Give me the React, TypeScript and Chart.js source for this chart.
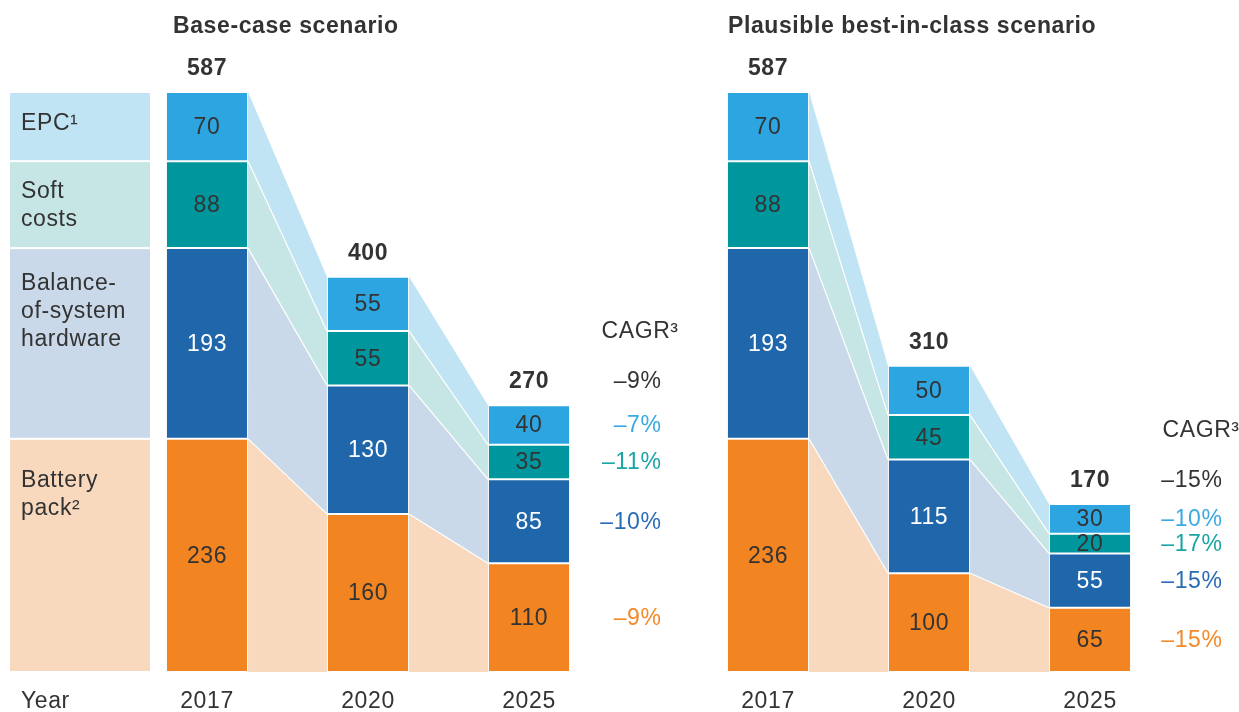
import React, { useEffect, useRef } from 'react';
import { Chart, registerables } from 'chart.js';

Chart.register(...registerables);

// ---------- data ----------
const YEARS = ['2017', '2020', '2025'];
// stacking order: bottom -> top
const SERIES_NAMES = ['Battery pack', 'Balance-of-system hardware', 'Soft costs', 'EPC'];
const LEGEND_LINES = [['Battery', 'pack²'], ['Balance-', 'of-system', 'hardware'], ['Soft', 'costs'], ['EPC¹']];

const BASE_BATTERY = [236, 160, 110];
const BASE_BOS = [193, 130, 85];
const BASE_SOFT = [88, 55, 35];
const BASE_EPC = [70, 55, 40];

const BEST_BATTERY = [236, 100, 65];
const BEST_BOS = [193, 115, 55];
const BEST_SOFT = [88, 45, 20];
const BEST_EPC = [70, 50, 30];

const CAGR_HEADER = 'CAGR³';
const BASE_CAGR_TOTAL = '–9%';
const BASE_CAGR = ['–9%', '–10%', '–11%', '–7%']; // battery, BOS, soft, EPC
const BEST_CAGR_TOTAL = '–15%';
const BEST_CAGR = ['–15%', '–15%', '–17%', '–10%'];

const TITLES = ['Base-case scenario', 'Plausible best-in-class scenario'];
const YEAR_LABEL = 'Year';

// ---------- styles ----------
const FONT = '"Liberation Sans", Arial, Helvetica, sans-serif';
const FONT_SIZE = 23;
const TEXT = '#333333';
const BAR_COLORS = ['#f28522', '#1f66ab', '#00969e', '#2ca5e0'];
const LIGHT_COLORS = ['#f9d9bd', '#cad9ea', '#c6e6e5', '#c0e4f4'];
const CAGR_COLORS = ['#f28a2a', '#2a6cb3', '#1aa5a5', '#3aaae2'];
const LABEL_COLORS = [TEXT, '#ffffff', TEXT, TEXT];
const LEGEND_TEXT_OFFSETS = [48, 42, 37, 38];
const SPACING = '0.6px';

const sumSeries = (arrs: number[][]) =>
  arrs.reduce((acc, arr) => acc.map((v, i) => v + arr[i]), arrs[0].map(() => 0));
const Y_MAX = Math.max(
  ...sumSeries([BASE_BATTERY, BASE_BOS, BASE_SOFT, BASE_EPC]),
  ...sumSeries([BEST_BATTERY, BEST_BOS, BEST_SOFT, BEST_EPC])
);

type PanelCfg = {
  title: string;
  titleX: number;
  values: number[][];
  cagrTotal: string;
  cagr: string[];
  legend: boolean;
  padLeft: number;
  padRight: number;
};

function setSpacing(ctx: any) {
  if ('letterSpacing' in ctx) ctx.letterSpacing = SPACING;
}

function makePlugin(cfg: PanelCfg) {
  return {
    id: 'panelDecor',
    beforeDraw(chart: any) {
      setSpacing(chart.ctx);
    },
    beforeDatasetsDraw(chart: any) {
      const ctx = chart.ctx;
      const n = chart.data.datasets.length;
      ctx.save();
      // connecting bands
      for (let d = 0; d < n; d++) {
        const meta = chart.getDatasetMeta(d);
        for (let i = 0; i < meta.data.length - 1; i++) {
          const a = meta.data[i].getProps(['x', 'y', 'base', 'width'], true);
          const b = meta.data[i + 1].getProps(['x', 'y', 'base', 'width'], true);
          const x1 = a.x + a.width / 2;
          const x2 = b.x - b.width / 2;
          ctx.beginPath();
          ctx.moveTo(x1, a.y);
          ctx.lineTo(x2, b.y);
          ctx.lineTo(x2, b.base);
          ctx.lineTo(x1, a.base);
          ctx.closePath();
          ctx.fillStyle = LIGHT_COLORS[d];
          ctx.fill();
        }
      }
      ctx.strokeStyle = '#ffffff';
      ctx.lineWidth = 1.2;
      for (let d = 0; d < n - 1; d++) {
        const meta = chart.getDatasetMeta(d);
        for (let i = 0; i < meta.data.length - 1; i++) {
          const a = meta.data[i].getProps(['x', 'y', 'width'], true);
          const b = meta.data[i + 1].getProps(['x', 'y', 'width'], true);
          ctx.beginPath();
          ctx.moveTo(a.x + a.width / 2, a.y);
          ctx.lineTo(b.x - b.width / 2, b.y);
          ctx.stroke();
        }
      }
      // legend column
      if (cfg.legend) {
        setSpacing(ctx);
        ctx.font = `${FONT_SIZE}px ${FONT}`;
        ctx.textAlign = 'left';
        ctx.textBaseline = 'alphabetic';
        for (let d = 0; d < n; d++) {
          const el = chart.getDatasetMeta(d).data[0].getProps(['y', 'base'], true);
          ctx.fillStyle = LIGHT_COLORS[d];
          ctx.fillRect(10, el.y + 1, 140, el.base - el.y - 2);
          ctx.fillStyle = TEXT;
          LEGEND_LINES[d].forEach((line, k) => {
            ctx.fillText(line, 21, el.y + LEGEND_TEXT_OFFSETS[d] + k * 28);
          });
        }
      }
      ctx.restore();
    },
    afterDatasetsDraw(chart: any) {
      const ctx = chart.ctx;
      const n = chart.data.datasets.length;
      const area = chart.chartArea;
      ctx.save();
      setSpacing(ctx);
      // segment labels
      ctx.font = `${FONT_SIZE}px ${FONT}`;
      ctx.textAlign = 'center';
      ctx.textBaseline = 'middle';
      for (let d = 0; d < n; d++) {
        const meta = chart.getDatasetMeta(d);
        meta.data.forEach((el: any, i: number) => {
          const p = el.getProps(['x', 'y', 'base'], true);
          ctx.fillStyle = LABEL_COLORS[d];
          ctx.fillText(String(chart.data.datasets[d].data[i]), p.x, (p.y + p.base) / 2 + 1);
        });
      }
      // totals
      const topMeta = chart.getDatasetMeta(n - 1);
      const totals = YEARS.map((_, i) =>
        chart.data.datasets.reduce((s: number, ds: any) => s + ds.data[i], 0)
      );
      ctx.font = `bold ${FONT_SIZE}px ${FONT}`;
      ctx.textBaseline = 'alphabetic';
      ctx.fillStyle = TEXT;
      let lastTotalBaseline = 0;
      topMeta.data.forEach((el: any, i: number) => {
        const p = el.getProps(['x', 'y'], true);
        const yb = chart.scales.y.getPixelForValue(totals[i]) - 17;
        ctx.fillText(String(totals[i]), p.x, yb);
        lastTotalBaseline = yb;
      });
      // CAGR column
      const last = YEARS.length - 1;
      ctx.font = `${FONT_SIZE}px ${FONT}`;
      ctx.textAlign = 'left';
      ctx.fillStyle = TEXT;
      ctx.fillText(CAGR_HEADER, area.right - 8, lastTotalBaseline - 50);
      ctx.textAlign = 'right';
      const cx = area.right + 52;
      ctx.fillText(cfg.cagrTotal, cx, lastTotalBaseline);
      ctx.textBaseline = 'middle';
      for (let d = 0; d < n; d++) {
        const p = chart.getDatasetMeta(d).data[last].getProps(['y', 'base'], true);
        ctx.fillStyle = CAGR_COLORS[d];
        ctx.fillText(cfg.cagr[d], cx, (p.y + p.base) / 2 + 1);
      }
      // title
      ctx.textBaseline = 'alphabetic';
      ctx.textAlign = 'left';
      ctx.fillStyle = TEXT;
      ctx.font = `bold ${FONT_SIZE}px ${FONT}`;
      ctx.fillText(cfg.title, cfg.titleX, 33);
      // Year label
      if (cfg.legend) {
        ctx.font = `${FONT_SIZE}px ${FONT}`;
        ctx.fillText(YEAR_LABEL, 21, area.bottom + 36);
      }
      ctx.restore();
    },
  };
}

function makeChart(canvas: HTMLCanvasElement, cfg: PanelCfg) {
  return new Chart(canvas, {
    type: 'bar',
    data: {
      labels: YEARS,
      datasets: SERIES_NAMES.map((name, d) => ({
        label: name,
        data: cfg.values[d],
        backgroundColor: BAR_COLORS[d],
        borderColor: 'rgba(255,255,255,0.85)',
        borderWidth: 1,
        borderSkipped: false,
        barPercentage: 0.51,
        categoryPercentage: 1,
      })),
    },
    options: {
      responsive: false,
      maintainAspectRatio: false,
      animation: false,
      layout: { padding: { left: cfg.padLeft, right: cfg.padRight, top: 92, bottom: 0 } },
      plugins: {
        legend: { display: false },
        tooltip: { enabled: false },
      },
      scales: {
        x: {
          stacked: true,
          grid: { display: false, drawTicks: false },
          border: { display: false },
          ticks: { font: { family: FONT, size: FONT_SIZE }, color: TEXT, padding: 16 },
          afterFit: (s: any) => {
            s.height = 40;
          },
        },
        y: { stacked: true, display: false, min: 0, max: Y_MAX },
      },
    },
    plugins: [makePlugin(cfg)],
  } as any);
}

export default function App() {
  const leftRef = useRef<HTMLCanvasElement>(null);
  const rightRef = useRef<HTMLCanvasElement>(null);

  useEffect(() => {
    document.body.style.margin = '0';
    const left = makeChart(leftRef.current!, {
      title: TITLES[0],
      titleX: 173,
      values: [BASE_BATTERY, BASE_BOS, BASE_SOFT, BASE_EPC],
      cagrTotal: BASE_CAGR_TOTAL,
      cagr: BASE_CAGR,
      legend: true,
      padLeft: 126.5,
      padRight: 70.5,
    });
    const right = makeChart(rightRef.current!, {
      title: TITLES[1],
      titleX: 48,
      values: [BEST_BATTERY, BEST_BOS, BEST_SOFT, BEST_EPC],
      cagrTotal: BEST_CAGR_TOTAL,
      cagr: BEST_CAGR,
      legend: false,
      padLeft: 7.5,
      padRight: 68.5,
    });
    return () => {
      left.destroy();
      right.destroy();
    };
  }, []);

  return (
    <div
      style={{
        position: 'absolute',
        left: 0,
        top: 0,
        width: 1239,
        height: 712,
        display: 'flex',
        background: '#ffffff',
      }}
    >
      <canvas ref={leftRef} width={680} height={712} style={{ display: 'block' }} />
      <canvas ref={rightRef} width={559} height={712} style={{ display: 'block' }} />
    </div>
  );
}
